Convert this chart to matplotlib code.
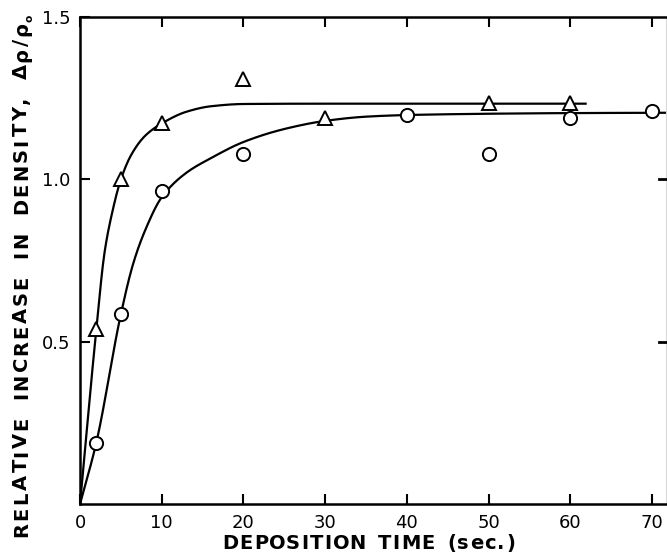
import numpy as np
import matplotlib
matplotlib.use("Agg")
import matplotlib.pyplot as plt
from matplotlib.font_manager import FontProperties

# Measured densification: triangles and circles
time_tri = [2, 5, 10, 20, 30, 50, 60]
dens_tri = [0.54, 1.00, 1.175, 1.31, 1.19, 1.236, 1.236]

time_circ = [2, 5, 10, 20, 40, 50, 60, 70]
dens_circ = [0.187, 0.585, 0.965, 1.077, 1.198, 1.077, 1.188, 1.21]

# Smooth trend curves drawn through the data (knots along each curve)
fit_tri_t = [0, 2, 3, 4, 5, 6.3, 8, 10, 13, 16, 20, 30, 62]
fit_tri_v = [0, 0.54, 0.775, 0.905, 1.0, 1.077, 1.135, 1.172, 1.208, 1.225, 1.232, 1.233, 1.233]

fit_circ_t = [0, 2, 5, 6.5, 8, 10, 13, 16, 20, 25, 30, 35, 40, 50, 60, 72]
fit_circ_v = [0, 0.19, 0.585, 0.74, 0.845, 0.945, 1.02, 1.065, 1.115, 1.155, 1.18,
              1.193, 1.198, 1.202, 1.204, 1.205]

x_ticks = [0, 10, 20, 30, 40, 50, 60, 70]
y_ticks = [0.5, 1.0, 1.5]
y_tick_labels = ["0.5", "1.0", "1.5"]

x_title = "DEPOSITION TIME (sec.)"
y_title = "RELATIVE INCREASE IN DENSITY, Δρ/ρ"
y_title_sub = "o"


def pchip(xk, yk, xs):
    """Monotone cubic Hermite curve through the knots (Fritsch-Carlson)."""
    xk = np.asarray(xk, float)
    yk = np.asarray(yk, float)
    h = np.diff(xk)
    d = np.diff(yk) / h
    m = np.zeros_like(yk)
    m[0], m[-1] = d[0], d[-1]
    for i in range(1, len(xk) - 1):
        if d[i - 1] * d[i] <= 0:
            m[i] = 0.0
        else:
            w1 = 2 * h[i] + h[i - 1]
            w2 = h[i] + 2 * h[i - 1]
            m[i] = (w1 + w2) / (w1 / d[i - 1] + w2 / d[i])
    idx = np.clip(np.searchsorted(xk, xs) - 1, 0, len(xk) - 2)
    t = (xs - xk[idx]) / h[idx]
    h00 = 2 * t**3 - 3 * t**2 + 1
    h10 = t**3 - 2 * t**2 + t
    h01 = -2 * t**3 + 3 * t**2
    h11 = t**3 - t**2
    return (h00 * yk[idx] + h10 * h[idx] * m[idx]
            + h01 * yk[idx + 1] + h11 * h[idx] * m[idx + 1])


plt.rcParams["font.family"] = ["DejaVu Sans"]

W, H = 667, 557
fig = plt.figure(figsize=(W / 100, H / 100), dpi=100)
ax = fig.add_axes([0.12, 0.0952, 0.8785, 0.8743])
renderer = fig.canvas.get_renderer()

ink = "black"
xs_tri = np.linspace(fit_tri_t[0], fit_tri_t[-1], 600)
xs_circ = np.linspace(fit_circ_t[0], fit_circ_t[-1], 600)
ax.plot(xs_tri, pchip(fit_tri_t, fit_tri_v, xs_tri), color=ink, lw=1.6, zorder=2,
        solid_capstyle="butt")
ax.plot(xs_circ, pchip(fit_circ_t, fit_circ_v, xs_circ), color=ink, lw=1.6, zorder=2,
        solid_capstyle="butt")

ax.plot(time_tri, dens_tri, linestyle="none", marker="^", markersize=10,
        markerfacecolor="white", markeredgecolor=ink, markeredgewidth=1.4, zorder=3)
ax.plot(time_circ, dens_circ, linestyle="none", marker="o", markersize=9.5,
        markerfacecolor="white", markeredgecolor=ink, markeredgewidth=1.4, zorder=3)

ax.set_xlim(0, 71.7)
ax.set_ylim(0, 1.5)

ax.set_xticks(x_ticks)
ax.set_xticklabels([str(v) for v in x_ticks])
ax.set_yticks(y_ticks)
ax.set_yticklabels(y_tick_labels)

ax.tick_params(axis="both", direction="in", length=7, width=1.5, labelsize=13,
               pad=7, top=True, right=False)

# short inward ticks on the right border at 0.5 and 1.0
for yv in y_ticks[:2]:
    ax.plot([71.7 - 0.9, 71.7], [yv, yv], color=ink, lw=2.0, clip_on=False, zorder=4)

for side in ("left", "bottom", "top"):
    ax.spines[side].set_linewidth(1.8)
    ax.spines[side].set_color(ink)
ax.spines["right"].set_linewidth(0.8)
ax.spines["right"].set_color("#d8d8d8")


def advance(s, fp):
    """Horizontal advance of string s in pixels."""
    w1 = renderer.get_text_width_height_descent("X" + s + "X", fp, ismath=False)[0]
    w0 = renderer.get_text_width_height_descent("XX", fp, ismath=False)[0]
    return w1 - w0


def tracked_text(text, start, length, size, vertical=False, sub=None, word_gap=0.0):
    """Letter-spaced title: chars spread evenly over `length` pixels from `start`."""
    fp = FontProperties(family="DejaVu Sans", weight="bold", size=size)
    fp_sub = FontProperties(family="DejaVu Sans", weight="bold", size=size * 0.55)
    advs = [advance(c, fp) + (word_gap if c == " " else 0.0) for c in text]
    sub_adv = advance(sub, fp_sub) if sub else 0.0
    natural = sum(advs) + sub_adv
    gaps = len(text) - 1
    track = (length - natural) / gaps
    pos = 0.0
    x0, y0 = start
    for c, a in zip(text, advs):
        if vertical:
            fig.text(x0 / W, (y0 + pos) / H, c, fontproperties=fp, rotation=90,
                     rotation_mode="anchor", ha="left", va="baseline", color=ink)
        else:
            fig.text((x0 + pos) / W, y0 / H, c, fontproperties=fp,
                     ha="left", va="baseline", color=ink)
        pos += a + track
    if sub:
        pos -= track
        drop = size * 100 / 72 * 0.28
        if vertical:
            fig.text((x0 + drop) / W, (y0 + pos) / H, sub, fontproperties=fp_sub,
                     rotation=90, rotation_mode="anchor", ha="left", va="baseline",
                     color=ink)
        else:
            fig.text((x0 + pos) / W, (y0 - drop) / H, sub, fontproperties=fp_sub,
                     ha="left", va="baseline", color=ink)


# axis titles (pixel positions measured from the lower-left corner)
tracked_text(x_title, start=(222, 8), length=293, size=14, word_gap=3)
tracked_text(y_title, start=(27, 20), length=522, size=14, vertical=True,
             sub=y_title_sub, word_gap=7)

fig.savefig("out.png", dpi=100)
